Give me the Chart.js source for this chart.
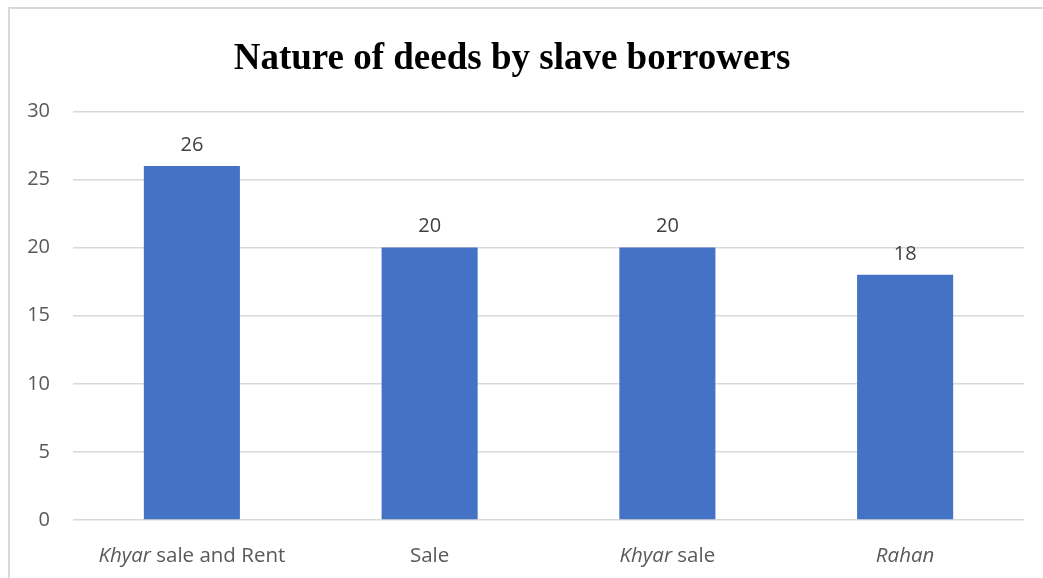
<!DOCTYPE html>
<html>
<head>
	<title>Nature of deeds</title>
	<script src="https://cdn.jsdelivr.net/npm/chart.js@4.4.0/dist/chart.umd.min.js"></script>
	<style>
		body { margin: 0; background: #fff; }
		#frame { position: absolute; left: 8px; top: 7px; width: 1040px; height: 580px; border: 2px solid #d9d9d9; box-sizing: border-box; }
		#wrap { position: absolute; left: 0; top: 0; width: 1043px; height: 578px; }
	</style>
</head>
<body>
	<div id="frame"></div>
	<div id="wrap"><canvas id="myChart" width="1043" height="578"></canvas></div>
	<script>
		var categories = ['Khyar sale and Rent', 'Sale', 'Khyar sale', 'Rahan'];
		// part of each label shown in italics
		var italicParts = ['Khyar', '', 'Khyar', 'Rahan'];
		var counts = [26, 20, 20, 18];
		var yTicks = [0, 5, 10, 15, 20, 25, 30];

		var labelFont = '"Open Sans", Lato, sans-serif';

		var xLabels = {
			id: 'xLabels',
			afterDraw: function (chart) {
				var ctx = chart.ctx;
				var x = chart.scales.x;
				ctx.save();
				ctx.fillStyle = '#595959';
				ctx.textBaseline = 'middle';
				ctx.textAlign = 'left';
				for (var i = 0; i < categories.length; i++) {
					var it = italicParts[i];
					var rest = categories[i].substring(it.length);
					ctx.font = 'italic 20.5px ' + labelFont;
					var w1 = ctx.measureText(it).width;
					ctx.font = '20.5px ' + labelFont;
					var w2 = ctx.measureText(rest).width;
					var cx = x.getPixelForValue(i);
					var sx = cx - (w1 + w2) / 2;
					ctx.font = 'italic 20.5px ' + labelFont;
					ctx.fillText(it, sx, 556);
					ctx.font = '20.5px ' + labelFont;
					ctx.fillText(rest, sx + w1, 556);
				}
				ctx.restore();
			}
		};

		var valueLabels = {
			id: 'valueLabels',
			afterDatasetsDraw: function (chart) {
				var ctx = chart.ctx;
				var meta = chart.getDatasetMeta(0);
				ctx.save();
				ctx.fillStyle = '#404040';
				ctx.font = '20px ' + labelFont;
				ctx.textAlign = 'center';
				ctx.textBaseline = 'middle';
				meta.data.forEach(function (bar, i) {
					ctx.fillText(counts[i], bar.x, bar.y - 21);
				});
				ctx.restore();
			}
		};

		var ctx = document.getElementById('myChart').getContext('2d');
		var myChart = new Chart(ctx, {
			type: 'bar',
			data: {
				labels: categories,
				datasets: [{
					data: counts,
					backgroundColor: '#4472C4',
					categoryPercentage: 1,
					barPercentage: 0.404
				}]
			},
			options: {
				responsive: false,
				animation: false,
				layout: { padding: { left: 0, right: 19, top: 0, bottom: 0 } },
				plugins: {
					legend: { display: false },
					tooltip: { enabled: false },
					title: {
						display: true,
						text: 'Nature of deeds by slave borrowers',
						color: '#000',
						font: { family: '"Liberation Serif", "Times New Roman", serif', size: 37, weight: 'bold' },
						padding: { top: 37, bottom: 30 }
					}
				},
				scales: {
					x: {
						grid: { display: false },
						border: { display: false },
						ticks: { display: false },
						afterFit: function (s) { s.height = 58; }
					},
					y: {
						min: 0,
						max: 30,
						afterBuildTicks: function (s) { s.ticks = yTicks.map(function (v) { return { value: v }; }); },
						grid: { color: '#d9d9d9', lineWidth: 1.5, drawTicks: false },
						border: { display: false },
						ticks: { color: '#595959', font: { family: labelFont, size: 20 }, padding: 23 },
						afterFit: function (s) { s.width = 73; }
					}
				}
			},
			plugins: [xLabels, valueLabels]
		});
	</script>
</body>
</html>
